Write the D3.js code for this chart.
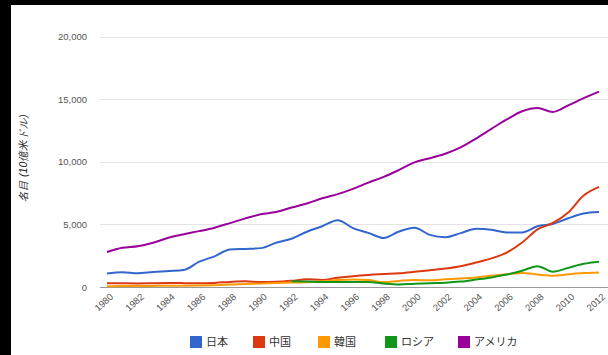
<!DOCTYPE html>
<html><head><meta charset="utf-8">
<script src="https://cdn.jsdelivr.net/npm/d3@7"></script>
<style>body{margin:0;background:#000}svg{display:block}</style>
</head><body>
<svg id="c" width="608" height="355"></svg>
<script>
const years = d3.range(1980, 2013);
const yTicks = [0, 5000, 10000, 15000, 20000];
const xTickYears = d3.range(1980, 2013, 2);
const seriesNames = ["日本", "中国", "韓国", "ロシア", "アメリカ"];
const seriesColors = ["#3366cc", "#dc3912", "#ff9900", "#109618", "#990099"];
const japan = [1071,1184,1100,1201,1275,1364,2021,2449,2986,3041,3104,3537,3853,4415,4850,5334,4706,4324,3914,4433,4731,4160,3981,4303,4656,4572,4357,4356,4849,5035,5488,5867,5984];
const china = [309,294,284,302,313,309,302,328,408,457,392,413,492,614,564,734,863,961,1029,1094,1211,1339,1471,1660,1955,2286,2752,3552,4598,5110,5950,7298,7990];
const korea = [65,72,78,87,97,101,116,147,196,243,279,326,350,386,455,556,603,560,376,487,562,533,609,681,765,898,1012,1123,1002,902,1015,1116,1164];
const russia = [null,null,null,null,null,null,null,null,null,null,null,null,460,435,395,396,392,405,271,196,260,307,345,431,592,764,990,1300,1661,1223,1525,1850,2022];
const usa = [2788,3127,3253,3535,3931,4218,4460,4736,5100,5482,5801,5992,6342,6667,7085,7415,7839,8332,8794,9354,9952,10286,10642,11142,11853,12623,13377,14029,14292,13974,14499,15076,15600];
const yTitle = "名目 (10億米ドル)";

const allSeries = [japan, china, korea, russia, usa];
const svg = d3.select("#c");
svg.append("rect").attr("x", 11).attr("y", 5).attr("width", 597).attr("height", 350).attr("fill", "#fff");

const x = d3.scaleLinear().domain([1980, 2012]).range([107, 599]);
const y = d3.scaleLinear().domain([0, 20000]).range([287, 36.5]);
const font = "'Liberation Sans', Arial, sans-serif";

// gridlines
svg.append("g").selectAll("line").data(yTicks).join("line")
  .attr("x1", 100).attr("x2", 608)
  .attr("y1", d => Math.round(y(d)) + 0.5).attr("y2", d => Math.round(y(d)) + 0.5)
  .attr("stroke", d => d === 0 ? "#999" : "#e4e4e4").attr("stroke-width", 1);

// y axis
const yAxis = d3.axisLeft(y).tickValues(yTicks).tickSize(0).tickPadding(0)
  .tickFormat(d3.format(","));
const gy = svg.append("g").attr("transform", "translate(87,0)").call(yAxis);
gy.select(".domain").remove();
gy.selectAll("text").attr("font-family", font).attr("font-size", 9.5).attr("fill", "#555");

// x axis
const xAxis = d3.axisBottom(x).tickValues(xTickYears).tickSize(0).tickPadding(0).tickFormat(d3.format("d"));
const gx = svg.append("g").attr("transform", "translate(0,299)").call(xAxis);
gx.select(".domain").remove();
gx.selectAll("text").attr("font-family", font).attr("font-size", 9.5).attr("fill", "#555")
  .attr("text-anchor", "end").attr("dy", "0.35em").attr("dx", "0.6em")
  .attr("transform", "rotate(-42)");

// y title
svg.append("text").attr("transform", "translate(27,158) rotate(-90)")
  .attr("text-anchor", "middle").attr("font-family", font).attr("font-size", 10.5)
  .attr("font-style", "italic").attr("fill", "#222").text(yTitle);

// lines
const line = d3.line().defined(d => d[1] != null)
  .x(d => x(d[0])).y(d => y(d[1])).curve(d3.curveMonotoneX);
allSeries.forEach((s, i) => {
  svg.append("path").datum(years.map((yr, j) => [yr, s[j]]))
    .attr("d", line).attr("fill", "none").attr("stroke", seriesColors[i])
    .attr("stroke-width", 2).attr("stroke-linejoin", "round");
});

// legend
const legendX = [190, 253, 318, 385, 458];
const lg = svg.append("g");
seriesNames.forEach((n, i) => {
  lg.append("rect").attr("x", legendX[i]).attr("y", 336).attr("width", 12).attr("height", 12)
    .attr("fill", seriesColors[i]);
  lg.append("text").attr("x", legendX[i] + 16).attr("y", 346).attr("font-family", "'Noto Sans CJK JP', sans-serif")
    .attr("font-size", 11).attr("fill", "#333").text(n);
});
</script>
</body></html>
